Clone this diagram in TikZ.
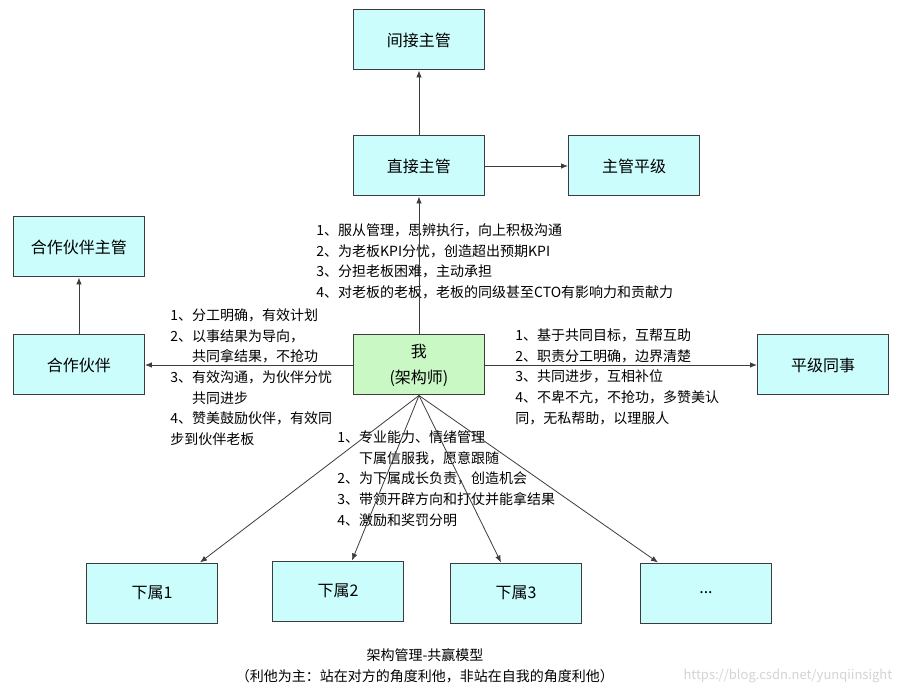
\documentclass[tikz,border=0pt]{standalone}
\usepackage{fontspec}
\setmainfont{Noto Sans CJK SC}
\usepackage{xcolor}
\usetikzlibrary{arrows,arrows.meta,positioning}
\definecolor{roleFill}{HTML}{CCFDFD}
\definecolor{meFill}{HTML}{C9F8C4}
\definecolor{roleLine}{HTML}{3C3C3C}
\definecolor{markGray}{HTML}{D4D4D4}

\begin{document}
\begin{tikzpicture}[->,>={Latex[length=7pt,width=5.5pt]},line width=0.8pt,draw=roleLine,
					main node/.style={draw=roleLine,fill=roleFill,line width=1pt,minimum width=131pt,
						minimum height=60pt,inner sep=0pt,font=\fontsize{16}{23}\selectfont},
					me node/.style={main node,fill=meFill,align=center},
					note node/.style={anchor=north west,align=left,inner sep=0pt,font=\fontsize{14}{20.6}\selectfont}]
					
					\useasboundingbox[fill=white] (-419pt,-331pt) rectangle (486pt,365pt);
					
					\node[me node] (me) {我\\[3pt](架构师)};
					\node[main node] (boss) [above=138pt of me] {直接主管};
					\node[main node] (bigboss) [above=65pt of boss] {间接主管};
					\node[main node] (bosspeer) [right=83pt of boss] {主管平级};
					\node[main node] (partner) [left=208pt of me] {合作伙伴};
					\node[main node] (partnerboss) [above=57pt of partner] {合作伙伴主管};
					\node[main node] (peer) [right=272pt of me] {平级同事};
					\node[main node] (sub1) [below left=167pt and 135pt of me] {下属1};
					\node[main node] (sub2) [right=54pt of sub1,yshift=2pt] {下属2};
					\node[main node] (sub3) [right=46pt of sub2,yshift=-2pt] {下属3};
					\node[main node] (sub4) [right=58pt of sub3] {...};
					
					\node[note node] (bossnote) at (-103pt,141.5pt) {1、服从管理，思辨执行，向上积极沟通\\
						2、为老板KPI分忧，创造超出预期KPI\\3、分担老板困难，主动承担\\
						4、对老板的老板，老板的同级甚至CTO有影响力和贡献力};
					\node[note node] (partnernote) at (-249pt,56.5pt) {1、分工明确，有效计划\\2、以事结果为导向，\\
						\phantom{2、}共同拿结果，不抢功\\3、有效沟通，为伙伴分忧\\\phantom{3、}共同进步\\
						4、赞美鼓励伙伴，有效同\\步到伙伴老板};
					\node[note node] (peernote) at (96pt,36.5pt) {1、基于共同目标，互帮互助\\2、职责分工明确，边界清楚\\
						3、共同进步，互相补位\\4、不卑不亢，不抢功，多赞美认\\同，无私帮助，以理服人};
					\node[note node] (subnote) at (-82pt,-65.5pt) {1、专业能力、情绪管理\\\phantom{1、}下属信服我，愿意跟随\\
						2、为下属成长负责，创造机会\\3、带领开辟方向和打仗并能拿结果\\4、激励和奖罚分明};
					
					\node[align=center,font=\fontsize{14}{21}\selectfont] (caption) at (6pt,-300.5pt)
						{架构管理-共赢模型\\（利他为主：站在对方的角度利他，非站在自我的角度利他）};
					\node[anchor=east,text=markGray,font=\fontsize{13}{15}\selectfont] (mark) at (477pt,-311pt)
						{https://blog.csdn.net/yunqiinsight};
					
					\path
					(me) edge (boss)
					(boss) edge (bigboss)
					(boss) edge (bosspeer)
					(me) edge (partner)
					(partner) edge (partnerboss)
					(me) edge (peer)
					(me.south) edge ([xshift=-18pt]sub1.north east)
					(me.south) edge ([xshift=14pt]sub2.north)
					(me.south) edge ([xshift=-15pt]sub3.north)
					(me.south) edge ([xshift=18pt]sub4.north west);
					
\end{tikzpicture}
\end{document}
